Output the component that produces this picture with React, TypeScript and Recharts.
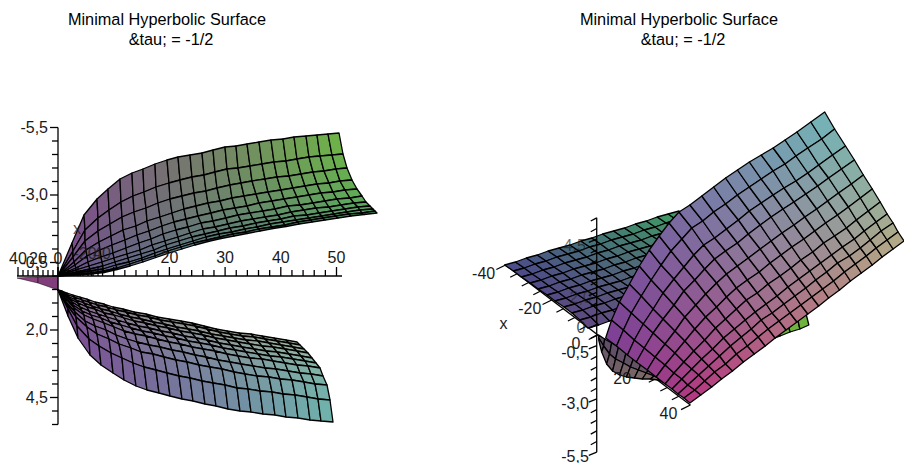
import React from 'react';
import { ScatterChart, Scatter, XAxis, YAxis } from 'recharts';

// The surfaces are 3D, so their vertices are read off the picture as positions in the
// view plane (h to the right, v upwards, measured from where the axes cross).
// Each inner list is one mesh column, from the first row to the last.
const leftUpperH = [
  [0, 0, 0, 0, 0, 0, 0, 0, 0, 0, 0],
  [14, 15, 15, 16, 17, 18, 18, 19, 19, 20, 20],
  [26, 27, 27, 28, 29, 30, 31, 32, 32, 33, 33],
  [39, 40, 40, 41, 42, 43, 44, 45, 45, 46, 46],
  [50, 51, 52, 53, 54, 55, 56, 57, 58, 59, 59],
  [62, 63, 64, 65, 67, 68, 69, 70, 71, 72, 72],
  [74, 75, 76, 78, 79, 81, 82, 83, 84, 84, 85],
  [85, 86, 88, 89, 91, 93, 94, 96, 97, 97, 98],
  [97, 98, 100, 102, 104, 105, 107, 108, 109, 110, 111],
  [109, 111, 112, 114, 116, 118, 120, 121, 122, 123, 124],
  [120, 122, 124, 126, 128, 130, 132, 134, 135, 136, 137],
  [132, 134, 136, 138, 140, 143, 145, 147, 148, 149, 150],
  [144, 146, 148, 150, 153, 155, 157, 160, 161, 162, 163],
  [155, 157, 159, 162, 165, 168, 170, 172, 174, 175, 176],
  [167, 169, 172, 174, 177, 180, 183, 185, 187, 188, 189],
  [178, 180, 183, 186, 189, 192, 195, 198, 199, 201, 202],
  [189, 192, 194, 198, 201, 205, 207, 210, 212, 214, 215],
  [201, 204, 207, 210, 214, 217, 220, 223, 225, 227, 228],
  [213, 216, 219, 223, 226, 230, 233, 236, 238, 240, 241],
  [225, 228, 231, 235, 239, 242, 246, 249, 251, 253, 254],
  [236, 239, 243, 247, 251, 255, 258, 261, 264, 265, 267],
  [248, 251, 255, 259, 263, 267, 271, 274, 276, 278, 280],
  [259, 262, 266, 271, 275, 279, 283, 287, 289, 291, 293],
  [270, 274, 278, 282, 287, 292, 296, 300, 302, 304, 306],
  [281, 285, 289, 294, 299, 304, 308, 312, 315, 317, 319],
];
const leftUpperV = [
  [0, 0, 0, 0, 0, 0, 0, 0, 0, 0, 0],
  [33, 25, 19, 14, 11, 8, 6, 4, 3, 2, 1],
  [61, 46, 35, 26, 20, 14, 10, 7, 5, 3, 2],
  [77, 58, 45, 34, 26, 19, 14, 10, 7, 5, 3.5],
  [87, 66, 52, 40, 31, 23, 18, 14, 11, 8, 6.5],
  [97, 74, 59, 46, 36, 28, 22, 18, 14, 12, 10],
  [103, 80, 64, 50, 41, 33, 26, 22, 18, 16, 14],
  [107, 84, 68, 55, 45, 37, 31, 26, 23, 20, 18.5],
  [112, 89, 73, 59, 50, 42, 35, 31, 27, 25, 23],
  [116, 93, 77, 63, 54, 46, 39, 35, 31, 29, 27],
  [119, 96, 80, 67, 57, 49, 43, 39, 35, 33, 31],
  [121, 99, 83, 70, 60, 53, 47, 42, 39, 36, 34.5],
  [123, 101, 85, 73, 63, 55, 49, 45, 42, 39, 37.5],
  [126, 104, 88, 75, 66, 58, 52, 48, 44, 42, 40],
  [129, 107, 91, 78, 68, 61, 55, 50, 47, 44, 42.5],
  [130, 108, 93, 80, 70, 63, 57, 53, 49, 47, 45],
  [132, 110, 95, 82, 73, 65, 59, 55, 52, 49, 47.5],
  [134, 112, 97, 84, 75, 67, 61, 57, 54, 51, 49.5],
  [136, 114, 99, 86, 77, 70, 64, 60, 56, 54, 52],
  [137, 115, 100, 88, 79, 71, 66, 61, 58, 56, 54],
  [139, 117, 102, 90, 81, 73, 68, 63, 60, 58, 56],
  [140, 119, 104, 92, 83, 75, 69, 65, 62, 60, 58],
  [141, 120, 105, 93, 84, 77, 71, 67, 64, 62, 60],
  [142, 121, 107, 95, 86, 78, 73, 69, 66, 63, 61.5],
  [143, 122, 108, 96, 87, 80, 74, 70, 67, 65, 63],
];
const leftLowerH = [
  [0, 0, 0, 0, 0, 0, 0, 0, 0, 0, 0],
  [4, 4, 5, 6, 7, 7, 8, 8, 9, 10, 10],
  [9, 10, 11, 12, 14, 15, 16, 17, 18, 19, 20],
  [15, 16, 18, 20, 22, 24, 26, 27, 29, 31, 32],
  [22, 24, 26, 29, 31, 33, 35, 37, 39, 41, 43],
  [29, 31, 34, 37, 40, 43, 46, 48, 51, 53, 55],
  [37, 39, 43, 46, 49, 52, 56, 58, 61, 64, 66],
  [46, 49, 52, 56, 59, 63, 66, 69, 73, 75, 78],
  [55, 58, 61, 66, 69, 73, 77, 79, 83, 86, 89],
  [65, 68, 72, 76, 80, 84, 88, 91, 95, 98, 101],
  [76, 79, 83, 87, 91, 95, 99, 102, 106, 109, 112],
  [88, 91, 95, 99, 103, 107, 111, 114, 118, 121, 124],
  [99, 102, 106, 110, 114, 118, 122, 125, 129, 132, 135],
  [111, 114, 118, 122, 126, 130, 134, 137, 141, 144, 147],
  [123, 126, 130, 134, 138, 142, 145, 148, 152, 155, 158],
  [134, 137, 141, 145, 149, 153, 157, 160, 164, 167, 170],
  [146, 149, 153, 157, 161, 165, 169, 172, 176, 179, 182],
  [158, 161, 165, 169, 173, 177, 180, 183, 187, 190, 193],
  [169, 172, 176, 180, 184, 188, 192, 195, 199, 202, 205],
  [181, 184, 188, 192, 196, 200, 204, 207, 211, 214, 217],
  [193, 196, 200, 204, 208, 212, 215, 218, 222, 225, 228],
  [204, 207, 211, 215, 219, 223, 227, 230, 234, 237, 240],
  [216, 219, 223, 227, 231, 235, 239, 242, 246, 249, 252],
  [228, 231, 235, 239, 243, 247, 250, 253, 257, 260, 263],
  [239, 242, 246, 250, 254, 258, 262, 265, 269, 272, 275],
];
const leftLowerV = [
  [-14, -14, -14, -14, -14, -14, -14, -14, -14, -14, -14],
  [-15, -16, -17, -19, -20, -22, -23, -26, -29, -33, -40],
  [-17, -19, -21, -23, -26, -29, -32, -36, -41, -50, -62],
  [-19, -21, -24, -27, -31, -35, -39, -45, -51, -63, -79],
  [-21, -24, -27, -31, -35, -39, -43, -50, -58, -70, -89],
  [-23, -26, -30, -33, -38, -42, -47, -54, -63, -77, -97],
  [-26, -29, -33, -37, -41, -46, -51, -59, -68, -82, -104],
  [-28, -31, -35, -39, -44, -49, -55, -63, -72, -87, -110],
  [-31, -34, -38, -42, -47, -52, -58, -66, -76, -91, -114],
  [-33, -36, -41, -45, -50, -55, -60, -69, -78, -94, -117],
  [-36, -39, -43, -47, -52, -57, -63, -71, -81, -97, -120],
  [-38, -41, -46, -50, -55, -60, -66, -74, -84, -100, -123],
  [-41, -44, -48, -52, -57, -62, -68, -76, -86, -102, -125],
  [-43, -46, -51, -55, -60, -65, -71, -79, -89, -105, -128],
  [-45, -48, -53, -57, -62, -67, -73, -81, -91, -107, -130],
  [-47, -50, -55, -59, -64, -69, -75, -84, -93, -109, -133],
  [-50, -53, -58, -62, -67, -72, -78, -86, -96, -112, -135],
  [-53, -56, -60, -64, -69, -74, -80, -88, -98, -113, -136],
  [-55, -58, -62, -66, -71, -76, -82, -90, -100, -115, -138],
  [-57, -60, -64, -68, -73, -78, -83, -92, -101, -116, -139],
  [-58, -61, -65, -70, -75, -80, -85, -93, -103, -118, -141],
  [-60, -63, -67, -71, -76, -81, -87, -95, -104, -119, -142],
  [-62, -65, -69, -73, -78, -83, -89, -97, -106, -121, -144],
  [-64, -67, -71, -75, -80, -85, -90, -98, -108, -123, -145],
  [-66, -69, -73, -77, -82, -87, -92, -100, -109, -124, -146],
];
const leftWedgeH = [
  [-41, -41],
  [-20, -20],
  [0, 0],
];
const leftWedgeV = [
  [-2, -2],
  [-1, -7],
  [0, -14],
];
const rightBackH = [
  [-93, -84, -76, -67, -59, -50, -42, -33, -25, -17, -9],
  [-82, -73, -65, -56, -48, -39, -31, -22, -14, -6, 2],
  [-71, -62, -54, -45, -37, -28, -20, -11, -3, 5, 13],
  [-60, -51, -43, -34, -26, -17, -9, 0, 8, 16, 24],
  [-49, -40, -32, -23, -15, -6, 2, 11, 19, 27, 35],
  [-38, -29, -21, -12, -4, 5, 13, 22, 30, 38, 46],
  [-27, -18, -10, -1, 7, 16, 24, 33, 41, 49, 57],
  [-16, -7, 1, 10, 18, 27, 35, 44, 52, 60, 68],
  [-5, 4, 12, 21, 29, 38, 46, 55, 63, 71, 79],
  [6, 15, 23, 32, 40, 49, 57, 66, 74, 82, 90],
  [17, 26, 34, 43, 51, 60, 68, 77, 85, 93, 101],
  [28, 37, 45, 54, 62, 71, 79, 88, 96, 104, 112],
  [39, 48, 56, 65, 73, 82, 90, 99, 107, 115, 123],
  [50, 59, 67, 76, 84, 93, 101, 110, 118, 126, 134],
  [61, 70, 78, 87, 95, 104, 112, 121, 129, 137, 145],
  [72, 81, 89, 98, 106, 115, 123, 132, 140, 148, 156],
  [83, 92, 100, 109, 117, 126, 134, 143, 151, 159, 167],
];
const rightBackV = [
  [70, 64, 58, 52, 46, 40, 34, 28, 22, 15, 7],
  [73, 67, 61, 55, 49, 43, 37, 31, 25, 18, 10],
  [77, 71, 65, 59, 53, 47, 41, 35, 29, 22, 14],
  [80, 74, 68, 62, 56, 50, 44, 38, 32, 25, 17],
  [84, 78, 72, 66, 60, 54, 48, 42, 36, 29, 21],
  [87, 81, 75, 69, 63, 57, 51, 45, 39, 32, 24],
  [90, 84, 78, 72, 66, 60, 54, 48, 42, 35, 27],
  [94, 88, 82, 76, 70, 64, 58, 52, 46, 39, 31],
  [97, 91, 85, 79, 73, 67, 61, 55, 49, 42, 34],
  [101, 95, 89, 83, 77, 71, 65, 59, 53, 46, 38],
  [104, 98, 92, 86, 80, 74, 68, 62, 56, 49, 41],
  [107, 101, 95, 89, 83, 77, 71, 65, 59, 52, 44],
  [111, 105, 99, 93, 87, 81, 75, 69, 63, 56, 48],
  [114, 108, 102, 96, 90, 84, 78, 72, 66, 59, 51],
  [118, 112, 106, 100, 94, 88, 82, 76, 70, 63, 55],
  [121, 115, 109, 103, 97, 91, 85, 79, 73, 66, 58],
  [124, 118, 112, 106, 100, 94, 88, 82, 76, 69, 61],
];
const rightLumpH = [
  [2, 2, 2],
  [8, 7, 5],
  [15, 13, 10],
  [22, 19, 16],
  [30, 27, 23],
  [38, 34, 30],
  [46, 42, 38],
  [54, 50, 46],
  [62, 58, 54],
  [70, 66, 62],
  [74, 72, 70],
];
const rightLumpV = [
  [0, -3, -5],
  [-4, -11, -17],
  [-8, -19, -29],
  [-12, -24, -36],
  [-16, -28, -40],
  [-21, -32, -42],
  [-26, -35, -43],
  [-32, -38, -44],
  [-38, -41, -44],
  [-44, -45, -45],
  [-50, -50, -49],
];
const rightTipH = [
  [172, 175],
  [182, 185],
  [192, 195],
  [202, 205],
  [211, 214],
];
const rightTipV = [
  [5, -5],
  [10, -1],
  [15, 3],
  [19, 6],
  [22, 10],
];
const rightFrontH = [
  [9, 20, 31, 40, 51, 60, 69, 76, 82, 88, 94],
  [15, 27, 38, 48, 59, 69, 78, 86, 92, 99, 105],
  [23, 35, 47, 57, 69, 79, 88, 96, 103, 109, 116],
  [33, 45, 57, 67, 79, 89, 98, 106, 113, 119, 126],
  [43, 55, 67, 78, 89, 99, 109, 117, 124, 130, 137],
  [53, 65, 78, 88, 100, 110, 120, 128, 135, 141, 148],
  [63, 75, 88, 99, 110, 121, 130, 139, 146, 152, 159],
  [73, 86, 98, 109, 121, 131, 141, 150, 156, 163, 170],
  [83, 96, 108, 119, 131, 141, 151, 160, 166, 173, 180],
  [94, 107, 119, 130, 142, 152, 162, 171, 177, 184, 191],
  [106, 118, 131, 142, 153, 164, 173, 182, 189, 195, 202],
  [118, 130, 143, 153, 165, 175, 185, 193, 200, 206, 213],
  [130, 142, 154, 165, 176, 186, 196, 204, 211, 217, 224],
  [142, 154, 166, 176, 187, 197, 206, 215, 221, 228, 234],
  [154, 166, 178, 188, 199, 209, 218, 226, 232, 239, 245],
  [166, 178, 189, 199, 210, 220, 229, 237, 243, 250, 256],
  [178, 190, 201, 211, 222, 231, 240, 248, 255, 261, 267],
  [190, 201, 213, 223, 233, 243, 252, 260, 266, 272, 278],
  [202, 213, 224, 234, 244, 254, 262, 270, 276, 282, 288],
  [216, 227, 238, 247, 257, 266, 274, 282, 287, 293, 299],
  [230, 240, 251, 260, 269, 278, 286, 293, 299, 304, 310],
];
const rightFrontV = [
  [-3, -11, -20, -27, -35, -42, -49, -54, -59, -63, -68],
  [15, 5, -5, -13, -22, -30, -38, -44, -50, -55, -60],
  [33, 22, 11, 2, -9, -18, -27, -34, -40, -46, -52],
  [51, 39, 26, 16, 4, -6, -16, -24, -31, -37, -44],
  [69, 55, 42, 30, 18, 6, -5, -14, -21, -29, -36],
  [85, 70, 56, 44, 30, 18, 7, -3, -11, -19, -27],
  [99, 84, 68, 55, 41, 28, 16, 6, -2, -11, -19],
  [112, 96, 80, 66, 52, 38, 26, 15, 6, -2, -11],
  [123, 107, 90, 76, 61, 47, 35, 23, 15, 6, -3],
  [130, 114, 97, 84, 69, 55, 42, 31, 22, 14, 5],
  [139, 123, 106, 92, 77, 63, 51, 39, 31, 22, 13],
  [148, 131, 115, 101, 86, 72, 59, 48, 39, 30, 21],
  [157, 140, 124, 110, 94, 80, 67, 56, 47, 38, 29],
  [165, 148, 132, 118, 102, 88, 75, 64, 55, 46, 37],
  [173, 156, 140, 126, 110, 96, 83, 72, 63, 54, 45],
  [180, 164, 147, 133, 118, 104, 92, 80, 72, 63, 54],
  [187, 171, 154, 141, 126, 112, 99, 88, 79, 71, 62],
  [195, 179, 162, 149, 134, 120, 107, 96, 87, 79, 70],
  [203, 187, 170, 157, 142, 128, 115, 104, 95, 87, 78],
  [213, 196, 180, 166, 151, 137, 124, 113, 104, 95, 86],
  [223, 206, 189, 175, 160, 146, 133, 121, 112, 103, 94],
];

const titleLines = ['Minimal Hyperbolic Surface', '&tau; = -1/2'];
const tauTicks = [0, 2, 4, 6, 8, 10, 12, 14, 16, 18, 20, 22, 24, 26, 28, 30, 32, 34, 36, 38, 40, 42, 44, 46, 48, 50];
const tauLabels = [20, 30, 40, 50];
const zTicks = [-5.5, -5, -4.5, -4, -3.5, -3, -2.5, -2, -1.5, -1, -0.5, 0, 0.5, 1, 1.5, 2, 2.5, 3, 3.5, 4, 4.5, 5, 5.5];
const zLabels = [
  { value: -5.5, text: '-5,5' },
  { value: -3, text: '-3,0' },
  { value: -0.5, text: '-0,5' },
  { value: 2, text: '2,0' },
  { value: 4.5, text: '4,5' },
];
const xTicks = [-40, -35, -30, -25, -20, -15, -10, -5, 0, 5, 10, 15, 20, 25, 30, 35, 40];
const xLabels = [
  { value: -40, text: '-40' },
  { value: -20, text: '-20' },
  { value: 0, text: '0' },
  { value: 20, text: '20' },
  { value: 40, text: '40' },
];

const FONT = '"Liberation Sans", Arial, sans-serif';
const CHART_W = 452;
const CHART_H = 463;
const INK = '#1a1a1a';
const AXIS_KEYS: Record<string, string> = { viewH: 'h', viewV: 'v', tau: 'tau', z: 'z', obliqueH: 'ox', obliqueV: 'oy' };

const hexToRgb = (c: string) => [1, 3, 5].map((i) => parseInt(c.slice(i, i + 2), 16));

// Corner colours: [first row/first column, first row/last column, last row/first column, last row/last column]
function shade(corners: string[], s: number, t: number) {
  const [a, b, c, d] = corners.map(hexToRgb);
  return `rgb(${a
    .map((_, k) => Math.round((a[k] * (1 - t) + b[k] * t) * (1 - s) + (c[k] * (1 - t) + d[k] * t) * s))
    .join(',')})`;
}

function meshCells(hs: number[][], vs: number[][], corners: string[], name: string, width = 1.3) {
  const cells: React.ReactNode[] = [];
  for (let j = 0; j < hs.length - 1; j++) {
    for (let i = 0; i < hs[j].length - 1; i++) {
      const data = [
        { h: hs[j][i], v: vs[j][i] },
        { h: hs[j + 1][i], v: vs[j + 1][i] },
        { h: hs[j + 1][i + 1], v: vs[j + 1][i + 1] },
        { h: hs[j][i + 1], v: vs[j][i + 1] },
      ];
      const fill = shade(corners, (i + 0.5) / (hs[j].length - 1), (j + 0.5) / (hs.length - 1));
      cells.push(
        <Scatter
          key={`${name}-${j}-${i}`}
          data={data}
          xAxisId="viewH"
          yAxisId="viewV"
          isAnimationActive={false}
          shape={() => null}
          line={{ fill, stroke: '#000', strokeWidth: width, strokeLinejoin: 'round' }}
          lineType="joint"
          lineJointType="linearClosed"
        />
      );
    }
  }
  return cells;
}

function segment(key: string, x1: number, y1: number, x2: number, y2: number, xId: string, yId: string) {
  const xKey = AXIS_KEYS[xId];
  const yKey = AXIS_KEYS[yId];
  return (
    <Scatter
      key={key}
      data={[{ [xKey]: x1, [yKey]: y1 }, { [xKey]: x2, [yKey]: y2 }]}
      xAxisId={xId}
      yAxisId={yId}
      isAnimationActive={false}
      shape={() => null}
      line={{ stroke: '#000', strokeWidth: 1.3 }}
      lineType="joint"
    />
  );
}

function textAt(key: string, x: number, y: number, xId: string, yId: string, text: string, anchor: 'middle' | 'end', opacity = 1) {
  return (
    <Scatter
      key={key}
      data={[{ [AXIS_KEYS[xId]]: x, [AXIS_KEYS[yId]]: y }]}
      xAxisId={xId}
      yAxisId={yId}
      isAnimationActive={false}
      shape={(p: any) => (
        <text x={p.cx} y={p.cy} textAnchor={anchor} dominantBaseline="central" fontSize={16} fontFamily={FONT} fill={INK} fillOpacity={opacity}>
          {text}
        </text>
      )}
    />
  );
}

function Title({ left }: { left: number }) {
  return (
    <div style={{ position: 'absolute', left, top: 9, width: 300, textAlign: 'center', fontFamily: FONT, fontSize: 16.3, lineHeight: '20px', color: '#000' }}>
      {titleLines.map((t, i) => (
        <div key={t} style={{ paddingLeft: i === 1 ? 8 : 0 }}>
          {t}
        </div>
      ))}
    </div>
  );
}

function LeftPanel() {
  return (
    <ScatterChart width={CHART_W} height={CHART_H} margin={{ top: 0, right: 0, bottom: 0, left: 0 }}>
      <XAxis xAxisId="viewH" type="number" dataKey="h" domain={[-58, 394]} hide />
      <YAxis yAxisId="viewV" type="number" dataKey="v" domain={[-187, 276]} hide />
      <XAxis xAxisId="tau" type="number" dataKey="tau" domain={[-10.413, 70.736]} hide />
      <YAxis yAxisId="z" type="number" dataKey="z" reversed domain={[-10.222, 6.926]} hide />
      {meshCells(leftUpperH, leftUpperV, ['#7c4a8c', '#6fb347', '#5e5a8c', '#4fa36a'], 'upper')}
      {meshCells(leftWedgeH, leftWedgeV, ['#9a4a86', '#8a3f80', '#8a3f80', '#6a3a70'], 'wedge', 0.5)}
      {meshCells(leftLowerH, leftLowerV, ['#8a6f84', '#a3b79c', '#7a4492', '#6db3ad'], 'lower')}
      {segment('xline', -41, 0, 284, 0, 'viewH', 'viewV')}
      {segment('yline', 0, -5.5, 0, 5.5, 'viewH', 'z')}
      {tauTicks.map((t) => segment(`t${t}`, t, 0, t, t % 10 === 0 ? 9 : 6, 'tau', 'viewV'))}
      {xTicks.map((t) => segment(`x${t}`, t, 0, t, t % 20 === 0 ? 9 : 6, 'viewH', 'viewV'))}
      {zTicks.map((t) => segment(`z${t}`, 0, t, zLabels.some((l) => l.value === t) ? -8 : -6, t, 'viewH', 'z'))}
      {tauLabels.map((t) => textAt(`tl${t}`, t, 19, 'tau', 'viewV', String(t), 'middle'))}
      {textAt('xl40', -40, 18, 'viewH', 'viewV', '40', 'middle')}
      {textAt('xl20', -20, 18, 'viewH', 'viewV', '20', 'middle')}
      {textAt('xl0', 0, 18, 'viewH', 'viewV', '0', 'middle')}
      {textAt('xlm20', 27, 23, 'viewH', 'viewV', '-20', 'middle', 0.8)}
      {textAt('xlm40', 44, 23, 'viewH', 'viewV', '40', 'middle', 0.8)}
      {textAt('xname', 19, 48, 'viewH', 'viewV', 'x', 'middle', 0.8)}
      {zLabels.map((l) => textAt(`zl${l.value}`, -10, l.value, 'viewH', 'z', l.text, 'end'))}
    </ScatterChart>
  );
}

function RightPanel() {
  return (
    <ScatterChart width={CHART_W} height={CHART_H} margin={{ top: 0, right: 0, bottom: 0, left: 0 }}>
      <XAxis xAxisId="viewH" type="number" dataKey="h" domain={[-146, 306]} hide />
      <YAxis yAxisId="viewV" type="number" dataKey="v" domain={[-128, 335]} hide />
      <YAxis yAxisId="z" type="number" dataKey="z" domain={[-6.009, 15.728]} hide />
      {/* the x axis runs obliquely, so it gets its own pair of scales */}
      <XAxis xAxisId="obliqueH" type="number" dataKey="ox" domain={[-63.2, 132.5]} hide />
      <YAxis yAxisId="obliqueV" type="number" dataKey="oy" reversed domain={[-191.4, 73.14]} hide />
      {segment('xline', -40, -40, 40, 40, 'obliqueH', 'obliqueV')}
      {xTicks.map((t) => segment(`x${t}`, t, t, t - (t % 20 === 0 ? 4 : 3), t + (t % 20 === 0 ? 2.6 : 2), 'obliqueH', 'obliqueV'))}
      {meshCells(rightBackH, rightBackV, ['#4a4a8c', '#3fa062', '#604a80', '#556c70'], 'back')}
      {segment('zline', 0, -5.5, 0, 5.5, 'viewH', 'z')}
      {zTicks.map((t) => segment(`z${t}`, 0, t, zLabels.some((l) => l.value === t) ? -8 : -6, t - 0.15, 'viewH', 'z'))}
      {textAt('zl45', -11, 4.2, 'viewH', 'z', '4,5', 'end', 0.65)}
      {textAt('zl20', -5, 1.75, 'viewH', 'z', '2,0', 'end', 0.5)}
      {textAt('zero', -16, 8, 'viewH', 'viewV', '0', 'middle', 0.8)}
      {meshCells(rightLumpH, rightLumpV, ['#5a4a6c', '#5a4a5a', '#6a5a6a', '#927d68'], 'lump')}
      {meshCells(rightTipH, rightTipV, ['#6fb33f', '#6fb33f', '#6fb33f', '#6fb33f'], 'tip')}
      {meshCells(rightFrontH, rightFrontV, ['#7b3f95', '#72b4b8', '#b6367f', '#b4ac86'], 'front')}
      {textAt('zlm05', -8, -0.8, 'viewH', 'z', '-0,5', 'end')}
      {textAt('zlm30', -8, -3.2, 'viewH', 'z', '-3,0', 'end')}
      {textAt('zlm55', -8, -5.7, 'viewH', 'z', '-5,5', 'end')}
      {xLabels.map((l) => textAt(`xl${l.value}`, l.value - 9.5, l.value + 4.7, 'obliqueH', 'obliqueV', l.text, 'middle'))}
      {textAt('xname', -94, 12, 'viewH', 'viewV', 'x', 'middle')}
    </ScatterChart>
  );
}

export default function App() {
  return (
    <div style={{ position: 'absolute', left: 0, top: 0, width: 904, height: 463, overflow: 'hidden', background: '#fff', fontFamily: FONT }}>
      <div style={{ position: 'absolute', left: 0, top: 0 }}>
        <LeftPanel />
      </div>
      <div style={{ position: 'absolute', left: 452, top: 0 }}>
        <RightPanel />
      </div>
      <Title left={17} />
      <Title left={529} />
    </div>
  );
}
